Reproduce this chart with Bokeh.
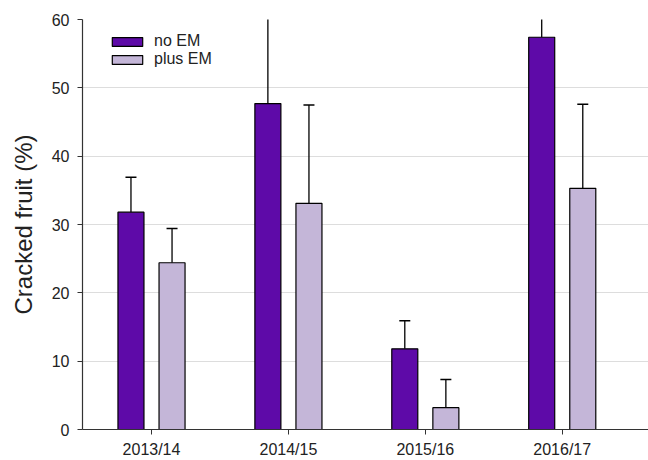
from bokeh.plotting import figure
from bokeh.models import FixedTicker, Range1d, ColumnDataSource, Legend, LegendItem
from bokeh.embed import file_html
from bokeh.resources import INLINE

seasons = ["2013/14", "2014/15", "2015/16", "2016/17"]
no_em = [31.8, 47.7, 11.8, 57.4]
no_em_err = [5.1, 15.0, 4.1, 8.0]
plus_em = [24.4, 33.1, 3.2, 35.3]
plus_em_err = [5.0, 14.4, 4.1, 12.3]

FONT = "Liberation Sans"
OFFSET = 0.15
WIDTH = 0.19

p = figure(width=648, height=460, output_backend="svg", toolbar_location=None,
           x_range=Range1d(-0.504, 3.63), y_range=Range1d(0, 60),
           min_border_left=82, min_border_right=0, min_border_top=19, min_border_bottom=29)
p.outline_line_color = None
p.background_fill_color = "white"
p.border_fill_color = "white"

idx = list(range(len(seasons)))

def series(vals, errs, shift, color):
    xs = [i + shift for i in idx]
    tops = [v + e for v, e in zip(vals, errs)]
    src = ColumnDataSource(dict(x=xs, top=vals, etop=tops))
    p.segment(x0="x", y0="top", x1="x", y1="etop", source=src, line_color="black", line_width=1.3)
    p.scatter(x="x", y="etop", source=src, marker="dash", size=11, line_color="black", line_width=1.5)
    r = p.vbar(x="x", top="top", width=WIDTH, bottom=0, source=src, fill_color=color,
               line_color="black", line_width=1.2)
    return r

r1 = series(no_em, no_em_err, -OFFSET, "#5e0aa8")
r2 = series(plus_em, plus_em_err, OFFSET, "#c4b6d8")

legend = Legend(items=[LegendItem(label="no EM", renderers=[r1]),
                       LegendItem(label="plus EM", renderers=[r2])],
                location=(26, 361))
legend.background_fill_alpha = 0
legend.border_line_color = None
legend.glyph_width = 38
legend.glyph_height = 11
legend.label_text_font = FONT
legend.label_text_font_size = "16px"
legend.label_text_color = "#222222"
legend.spacing = 0
legend.padding = 0
legend.margin = 0
legend.label_height = 16
legend.label_standoff = 8
legend.label_text_line_height = 1.0
p.add_layout(legend)

p.xaxis.ticker = FixedTicker(ticks=idx)
p.xaxis.major_label_overrides = {i: s for i, s in zip(idx, seasons)}
p.yaxis.ticker = FixedTicker(ticks=[0, 10, 20, 30, 40, 50, 60])
p.yaxis.axis_label = "Cracked fruit (%)"
p.yaxis.axis_label_text_font = FONT
p.yaxis.axis_label_text_font_size = "24px"
p.yaxis.axis_label_text_font_style = "normal"
p.yaxis.axis_label_text_color = "#222222"
p.yaxis.axis_label_standoff = 12

for ax in (p.xaxis, p.yaxis):
    ax.major_label_text_font = FONT
    ax.major_label_text_font_size = "16px"
    ax.major_label_text_color = "#222222"
    ax.axis_line_color = "#333333"
    ax.axis_line_width = 1.2
    ax.major_tick_line_color = "#333333"
    ax.major_tick_out = 5
    ax.major_tick_in = 0
    ax.minor_tick_line_color = None

p.xaxis.major_label_standoff = 6
p.yaxis.major_label_standoff = 8

p.xgrid.grid_line_color = None
p.ygrid.grid_line_color = "#dddddd"
p.ygrid.grid_line_width = 1

open("out.html", "w").write(file_html(p, INLINE))
